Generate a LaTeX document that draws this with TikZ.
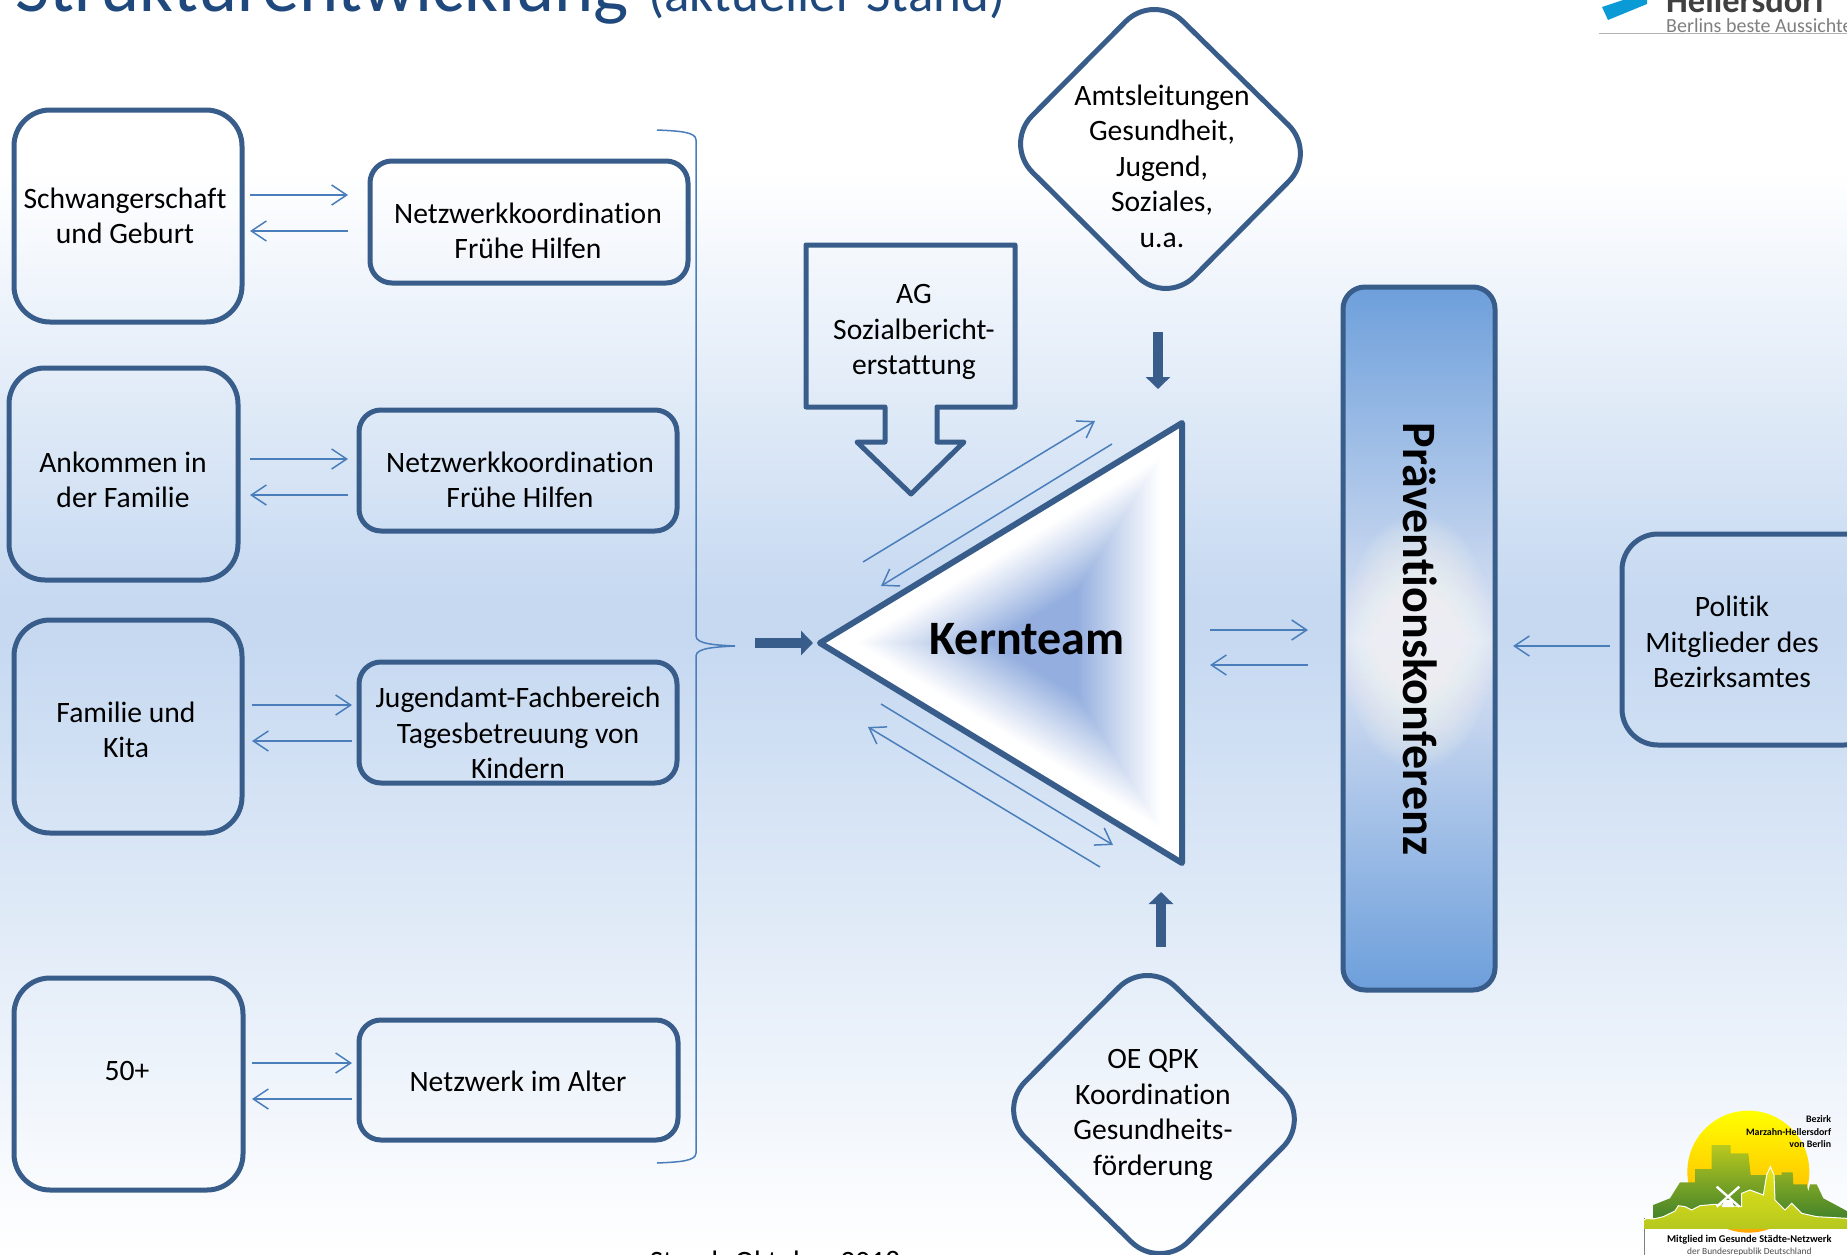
\documentclass[tikz,border=0pt]{standalone}
\usepackage{fontspec}
\setmainfont{Carlito}[Ligatures=NoCommon]
\usetikzlibrary{arrows.meta}
\definecolor{framec}{HTML}{385D8A}
\definecolor{thinc}{HTML}{4A7EBB}
\definecolor{titlec}{HTML}{1F497D}
\definecolor{bgc}{HTML}{C6D9F1}
\definecolor{barc}{HTML}{6D9FDB}
\definecolor{barmid}{HTML}{DDE4F4}
\definecolor{triC}{HTML}{94AFDF}
\definecolor{logoblue}{HTML}{0A9BD6}
\definecolor{skytop}{HTML}{B9C91E}
\definecolor{skybot}{HTML}{3E7F2B}
\definecolor{fronttop}{HTML}{E8E517}
\definecolor{frontbot}{HTML}{B5C81E}
\tikzset{
 frameline/.style={draw=framec,line width=5pt,line join=round},
 lbl/.style={font=\fontsize{29.6}{35.5}\selectfont,align=center,text=black,inner sep=0pt},
 thin arrow/.style={draw=thinc,line width=1.5pt,-{Straight Barb[length=15pt,width=20pt,line width=1.5pt]}},
 bigbox/.style={frameline,rounded corners=36pt},
 smallbox/.style={frameline,rounded corners=22pt},
 thick arrow/.style={draw=framec,line width=9.5pt,-{Triangle[length=12pt,width=24pt]}},
 logobold/.style={anchor=base east,inner sep=0pt,font=\fontsize{9.9}{10}\selectfont\bfseries}
}
\begin{document}
\begin{tikzpicture}[x=1pt,y=-1pt]
\useasboundingbox (0,0) rectangle (1847,1255);
\begin{scope}
\clip (0,0) rectangle (1847,1255);
\shade[top color=white,bottom color=bgc] (0,170) rectangle (1847,600);
\fill[white] (0,0) rectangle (1847,170);
\fill[bgc] (0,600) rectangle (1847,640);
\shade[top color=bgc,bottom color=white] (0,640) rectangle (1847,1255);
% title
\node[anchor=base west,inner sep=0pt,text=titlec,font=\fontsize{74.5}{74}\selectfont] (title) at (15,12) {Strukturentwicklung};
\node[anchor=base west,inner sep=0pt,text=titlec,font=\fontsize{53}{53}\selectfont] (stand) at (648,12) {(aktueller Stand)};
% top logo
\fill[white] (1599,0) rectangle (1847,34);
\draw[gray!60,line width=1pt] (1599,34) -- (1847,34);
\fill[logoblue] (1602,7) -- (1647,-8) -- (1647,4) -- (1608,20) -- cycle;
\node[anchor=base west,inner sep=0pt,text=black!75,font=\fontsize{34.5}{35}\selectfont\bfseries] (hell) at (1666,13) {Hellersdorf};
\node[anchor=base west,inner sep=0pt,text=black!50,font=\fontsize{20}{20}\selectfont] (berl) at (1666,33) {Berlins beste Aussichten};
% left boxes
\draw[bigbox] (14,110) rectangle (242,322);
\node[lbl] (a1) at (125,216) {Schwangerschaft\\und Geburt};
\draw[bigbox] (9,368) rectangle (238,580);
\node[lbl] (a2) at (123,480) {Ankommen in\\der Familie};
\draw[bigbox] (14,620) rectangle (242,833);
\node[lbl] (a3) at (126,730) {Familie und\\Kita};
\draw[bigbox] (14,978) rectangle (243,1190);
\node[lbl] (a4) at (127,1071) {50+};
\draw[smallbox] (370,161) rectangle (688,283);
\node[lbl] (b1) at (528,231) {Netzwerkkoordination\\Frühe Hilfen};
\draw[smallbox] (359,410) rectangle (677,531);
\node[lbl] (b2) at (520,480) {Netzwerkkoordination\\Frühe Hilfen};
\draw[smallbox] (359,662) rectangle (677,783);
\node[lbl] (b3) at (518,733) {Jugendamt-Fachbereich\\Tagesbetreuung von\\Kindern};
\draw[smallbox] (359,1020) rectangle (678,1140);
\node[lbl] (b4) at (518,1081) {Netzwerk im Alter};
\foreach \y/\xa/\xb in {195/250/348,231/348/250,459/250/348,495/348/250,705/252/352,741/352/252,1063/252/352,1099/352/252,630/1210/1308,665/1308/1210,646/1610/1513}
  \draw[thin arrow] (\xa,\y) -- (\xb,\y);
% brace
\draw[thinc,line width=1.5pt] (657,130) .. controls (680,131) and (696,132) .. (696,140) -- (696,636) .. controls (696,644) and (715,645) .. (735,646) .. controls (715,647) and (696,648) .. (696,656) -- (696,1153) .. controls (696,1161) and (680,1162) .. (657,1163);
% thick arrows
\draw[thick arrow] (755,643) -- (813,643);
\draw[thick arrow] (1158,332) -- (1158,389);
\draw[thick arrow] (1161,947) -- (1161,892);
% callout
\draw[frameline] (806,245) -- (1015,245) -- (1015,407) -- (937,407) -- (937,442) -- (964,442) -- (911,494) -- (857,442) -- (885,442) -- (885,407) -- (806,407) -- cycle;
\node[lbl] (ag) at (914,332) {AG\\Sozialbericht-\\erstattung};
% triangle
\fill[white] (820,643) -- (1182,423) -- (1182,863) -- cycle;
\foreach \i in {0,1,...,70}{
  \pgfmathsetmacro{\f}{0.85*(1-\i/70)}
  \pgfmathsetmacro{\c}{min(100,100*(\i/50)^1.05)}
  \fill[triC!\c!white] ({1045+\f*(820-1045)},{643}) -- ({1045+\f*(1182-1045)},{643+\f*(423-643)}) -- ({1045+\f*(1182-1045)},{643+\f*(863-643)}) -- cycle;
}
\draw[frameline,line width=6pt] (820,643) -- (1182,423) -- (1182,863) -- cycle;
\node[font=\fontsize{48}{48}\selectfont\bfseries,text=black,inner sep=0pt] (kern) at (1027,639) {Kernteam};
\draw[thin arrow] (863,562) -- (1095,421);
\draw[thin arrow] (1112,444) -- (881,586);
\draw[thin arrow] (881,704) -- (1113,845);
\draw[thin arrow] (1100,867) -- (868,727);
% diamonds
\draw[frameline,rounded corners=40pt] (1154,-7) -- (1317,153) -- (1166,305) -- (1004,144) -- cycle;
\node[lbl] (d1) at (1162,166) {Amtsleitungen\\Gesundheit,\\Jugend,\\Soziales,\\u.a.};
\draw[frameline,rounded corners=40pt] (1147,959) -- (1311,1119) -- (1160,1270) -- (997,1110) -- cycle;
\node[lbl] (d2) at (1153,1115) {OE QPK\\Koordination\\Gesundheits-\\förderung};
% bar
\begin{scope}
\clip[rounded corners=22pt] (1343,287) rectangle (1495,990);
\shade[top color=barc,bottom color=barmid] (1343,287) rectangle (1495,640);
\shade[top color=barmid,bottom color=barc] (1343,640) rectangle (1495,990);
\foreach \k in {1,...,40}
  \fill[white,opacity=.05] (1418,642) ellipse[x radius={1.9*(41-\k)},y radius={3.2*(41-\k)}];
\end{scope}
\draw[frameline,rounded corners=22pt] (1343,287) rectangle (1495,990);
\node[rotate=-90,font=\fontsize{48}{48}\selectfont\bfseries,text=black,inner sep=0pt] (praev) at (1420,639) {Präventionskonferenz};
% politik
\draw[frameline,rounded corners=36pt] (1622,534) rectangle (1880,745);
\node[lbl] (pol) at (1732,642) {Politik\\Mitglieder des\\Bezirksamtes};
% stand
\node[anchor=base,inner sep=0pt,font=\fontsize{29.6}{35}\selectfont] (st) at (775,1271) {Stand: Oktober 2018};
% bottom logo
\begin{scope}[shift={(1620,1085)},x=0.3333pt,y=-0.3333pt]
\fill[white] (72,400) rectangle (681,510);
\draw[gray,line width=.7pt] (72,400) -- (72,510);
\shade[top color=yellow,bottom color=orange!70!yellow] (385,260) circle[radius=183];
\shade[top color=skytop,bottom color=skybot] (100,400) -- (100,360) -- (150,340) -- (180,292) -- (225,292) -- (225,252) -- (275,252) -- (275,180) -- (332,180) -- (332,205) -- (385,205) -- (392,270) -- (440,270) -- (485,270) -- (485,262) -- (518,262) -- (520,298) -- (560,298) -- (565,320) -- (570,298) -- (590,298) -- (610,340) -- (681,378) -- (681,410) -- cycle;
\shade[top color=fronttop,bottom color=frontbot] (72,432) -- (72,405) -- (80,400) -- (100,402) -- (130,395) -- (165,378) -- (175,362) -- (195,365) -- (215,375) -- (240,362) -- (285,358) -- (365,365) -- (365,325) -- (390,315) -- (430,330) -- (440,270) -- (451,245) -- (462,270) -- (465,345) -- (495,375) -- (515,355) -- (545,385) -- (590,395) -- (681,400) -- (681,432) -- cycle;
\draw[white,line width=1pt] (72,405) -- (80,400) -- (100,402) -- (130,395) -- (165,378) -- (175,362) -- (195,365) -- (215,375) -- (240,362) -- (285,358) -- (365,365) -- (365,325) -- (390,315) -- (430,330) -- (440,270) -- (451,245) -- (462,270) -- (465,345) -- (495,375) -- (515,355) -- (545,385) -- (590,395) -- (681,400);
\draw[white,line width=2.4pt] (290,305) -- (358,365) (358,305) -- (290,365);
\fill[white] (312,345) -- (336,345) -- (342,366) -- (306,366) -- cycle;
\node[logobold] (l1) at (634,113) {Bezirk};
\node[logobold] (l2) at (634,151) {Marzahn-Hellersdorf};
\node[logobold] (l3) at (634,186) {von Berlin};
\node[anchor=base,inner sep=0pt,font=\fontsize{10.4}{11}\selectfont\bfseries] (l4) at (388,472) {Mitglied im Gesunde Städte-Netzwerk};
\node[anchor=base,inner sep=0pt,text=black!70,font=\fontsize{9.4}{10}\selectfont] (l5) at (388,508) {der Bundesrepublik Deutschland};
\end{scope}
\end{scope}
\end{tikzpicture}
\end{document}
